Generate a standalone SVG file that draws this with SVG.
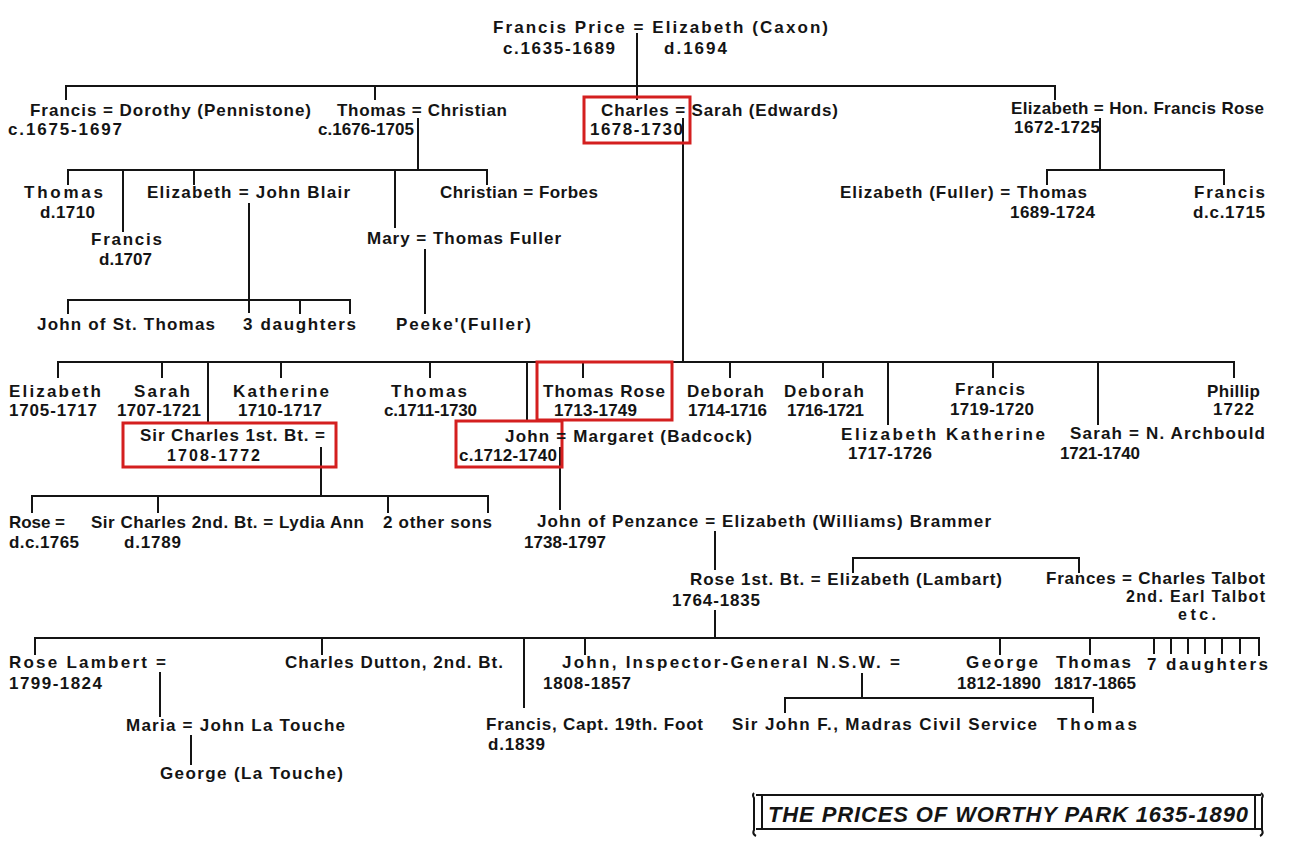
<svg xmlns="http://www.w3.org/2000/svg" width="1315" height="858" viewBox="0 0 1315 858">
<style>
text{font-family:"Liberation Sans",Arial,sans-serif;font-size:17px;font-weight:bold;fill:#141414}
.sm{font-size:16px}
.ln{fill:none;stroke:#141414;stroke-width:2}
.hl{fill:none;stroke:#d41f1f;stroke-width:3}
.ttl{font-style:italic;font-weight:bold;font-size:22px}
</style>
<rect width="1315" height="858" fill="#fff"/>
<g id="connectors" class="ln">
<path d="M637,33V100"/>
<path d="M66,100V86H1055V100M375,86V100"/>
<path d="M418,118V170M68,185V170H487V185M123,170V232M194,170V185M395,170V228"/>
<path d="M249,203V313M68,314V300H350V314M300,300V314"/>
<path d="M425,249V314"/>
<path d="M1100,118V170M1047,185V170H1224V185"/>
<path d="M683,118V362"/>
<path d="M58,378V362H1234V378M162,362V378M208,362V422M281,362V378M430,362V378M527,362V420M583,362V378M730,362V378M823,362V378M888,362V425M993,362V378M1098,362V425"/>
<path d="M321,447V496M32,513V496H488V513M158,496V513M388,496V513"/>
<path d="M560,447V510"/>
<path d="M715,531V570M715,610V638"/>
<path d="M853,573V558H1079V573"/>
<path d="M35,655V638H1259V656M322,638V655M524,638V708M585,638V655M1000,638V655M1090,638V655M1154,638V654M1171,638V654M1188,638V654M1205,638V654M1222,638V654M1240,638V654"/>
<path d="M160,672V717"/>
<path d="M862,673V698M785,713V698H1093V713"/>
<path d="M191,735V765"/>
</g>
<g id="n-root"><text x="493" y="33" textLength="335">Francis Price = Elizabeth (Caxon)</text><text x="503" y="54" textLength="112">c.1635-1689</text><text x="664" y="54" textLength="63">d.1694</text></g>
<g id="n-francis"><text x="30" y="116" textLength="281">Francis = Dorothy (Pennistone)</text><text x="8" y="135" textLength="114">c.1675-1697</text></g>
<g id="n-thomas"><text x="337" y="116" textLength="170">Thomas = Christian</text><text x="318" y="135" textLength="96">c.1676-1705</text></g>
<g id="n-charles"><rect class="hl" x="584" y="97" width="106" height="46"/><text x="601" y="116" textLength="237">Charles = Sarah (Edwards)</text><text x="590" y="135" textLength="93">1678-1730</text></g>
<g id="n-elizabeth"><text x="1011" y="114" textLength="253">Elizabeth = Hon. Francis Rose</text><text x="1014" y="133" textLength="86">1672-1725</text></g>
<g id="n-thomas-d1710"><text x="24" y="198" textLength="79">Thomas</text><text x="40" y="218" textLength="55">d.1710</text></g>
<g id="n-francis-d1707"><text x="91" y="245" textLength="71">Francis</text><text x="99" y="265" textLength="53">d.1707</text></g>
<g id="n-elizabeth-blair"><text x="147" y="198" textLength="203">Elizabeth = John Blair</text></g>
<g id="n-christian"><text x="440" y="198" textLength="158">Christian = Forbes</text></g>
<g id="n-mary"><text x="367" y="244" textLength="194">Mary = Thomas Fuller</text></g>
<g id="n-john-st-thomas"><text x="37" y="330" textLength="178">John of St. Thomas</text></g>
<g id="n-3-daughters"><text x="243" y="330" textLength="113">3 daughters</text></g>
<g id="n-peeke"><text x="396" y="330" textLength="135">Peeke'(Fuller)</text></g>
<g id="n-thomas-rose-1689"><text x="840" y="198" textLength="247">Elizabeth (Fuller) = Thomas</text><text x="1010" y="218" textLength="85">1689-1724</text></g>
<g id="n-francis-1715"><text x="1194" y="198" textLength="71">Francis</text><text x="1193" y="218" textLength="72">d.c.1715</text></g>
<g id="n-elizabeth-1705"><text x="9" y="397" textLength="92">Elizabeth</text><text x="9" y="416" textLength="88">1705-1717</text></g>
<g id="n-sarah-1707"><text x="134" y="397" textLength="56">Sarah</text><text x="117" y="416" textLength="84">1707-1721</text></g>
<g id="n-katherine"><text x="233" y="397" textLength="96">Katherine</text><text x="238" y="416" textLength="84">1710-1717</text></g>
<g id="n-thomas-1711"><text x="391" y="397" textLength="76">Thomas</text><text x="384" y="416" textLength="93">c.1711-1730</text></g>
<g id="n-thomas-rose"><rect class="hl" x="537" y="362" width="135" height="58"/><text x="543" y="397" textLength="122">Thomas Rose</text><text x="554" y="416" textLength="83">1713-1749</text></g>
<g id="n-deborah-1714"><text x="687" y="397" textLength="77">Deborah</text><text x="688" y="416" textLength="79">1714-1716</text></g>
<g id="n-deborah-1716"><text x="784" y="397" textLength="80">Deborah</text><text x="787" y="416" textLength="77">1716-1721</text></g>
<g id="n-francis-1719"><text x="955" y="395" textLength="70">Francis</text><text x="950" y="415" textLength="84">1719-1720</text></g>
<g id="n-phillip"><text x="1207" y="397" textLength="53">Phillip</text><text x="1213" y="415" textLength="41">1722</text></g>
<g id="n-elizabeth-katherine"><text x="841" y="440" textLength="204">Elizabeth Katherine</text><text x="848" y="459" textLength="84">1717-1726</text></g>
<g id="n-sarah-archbould"><text x="1070" y="439" textLength="195">Sarah = N. Archbould</text><text x="1060" y="459" textLength="80">1721-1740</text></g>
<g id="n-sir-charles-1"><rect class="hl" x="123" y="423" width="213" height="44"/><text x="140" y="441" textLength="185">Sir Charles 1st. Bt. =</text><text class="sm" x="167" y="461" textLength="93">1708-1772</text></g>
<g id="n-john-margaret"><rect class="hl" x="456" y="421" width="106" height="46"/><text x="505" y="442" textLength="247">John = Margaret (Badcock)</text><text x="459" y="461" textLength="98">c.1712-1740</text></g>
<g id="n-rose-1765"><text x="9" y="528" textLength="56">Rose =</text><text x="9" y="548" textLength="70">d.c.1765</text></g>
<g id="n-sir-charles-2"><text x="91" y="528" textLength="273">Sir Charles 2nd. Bt. = Lydia Ann</text><text x="124" y="548" textLength="57">d.1789</text></g>
<g id="n-2-other-sons"><text x="383" y="528" textLength="109">2 other sons</text></g>
<g id="n-john-penzance"><text x="537" y="527" textLength="454">John of Penzance = Elizabeth (Williams) Brammer</text><text x="524" y="548" textLength="82">1738-1797</text></g>
<g id="n-rose-1st-bt"><text x="690" y="585" textLength="312">Rose 1st. Bt. = Elizabeth (Lambart)</text><text x="672" y="606" textLength="88">1764-1835</text></g>
<g id="n-frances"><text x="1046" y="584" textLength="219">Frances = Charles Talbot</text><text class="sm" x="1126" y="602" textLength="139">2nd. Earl Talbot</text><text class="sm" x="1178" y="620" textLength="38">etc.</text></g>
<g id="n-rose-lambert"><text x="9" y="668" textLength="157">Rose Lambert =</text><text x="9" y="689" textLength="93">1799-1824</text></g>
<g id="n-charles-dutton"><text x="285" y="668" textLength="218">Charles Dutton, 2nd. Bt.</text></g>
<g id="n-john-inspector"><text x="562" y="668" textLength="338">John, Inspector-General N.S.W. =</text><text x="543" y="689" textLength="88">1808-1857</text></g>
<g id="n-george-1812"><text x="966" y="668" textLength="72">George</text><text x="957" y="689" textLength="84">1812-1890</text></g>
<g id="n-thomas-1817"><text x="1056" y="668" textLength="75">Thomas</text><text x="1054" y="689" textLength="82">1817-1865</text></g>
<g id="n-7-daughters"><text x="1147" y="670" textLength="121">7 daughters</text></g>
<g id="n-francis-capt"><text x="486" y="730" textLength="217">Francis, Capt. 19th. Foot</text><text x="488" y="750" textLength="57">d.1839</text></g>
<g id="n-sir-john-f"><text x="732" y="730" textLength="305">Sir John F., Madras Civil Service</text></g>
<g id="n-thomas-last"><text x="1057" y="730" textLength="80">Thomas</text></g>
<g id="n-maria"><text x="126" y="731" textLength="219">Maria = John La Touche</text></g>
<g id="n-george-la-touche"><text x="160" y="779" textLength="183">George (La Touche)</text></g>
<g id="title">
<path class="ln" d="M756,795H1261M756,829H1261"/>
<path class="ln" d="M754,793Q752,795 754,798V830Q752,834 756,836M762,796V829M1261,793Q1264,795 1262,798V830Q1264,834 1260,836M1255,796V829"/>
<text class="ttl" x="768" y="822" textLength="480">THE PRICES OF WORTHY PARK 1635-1890</text>
</g>
</svg>
